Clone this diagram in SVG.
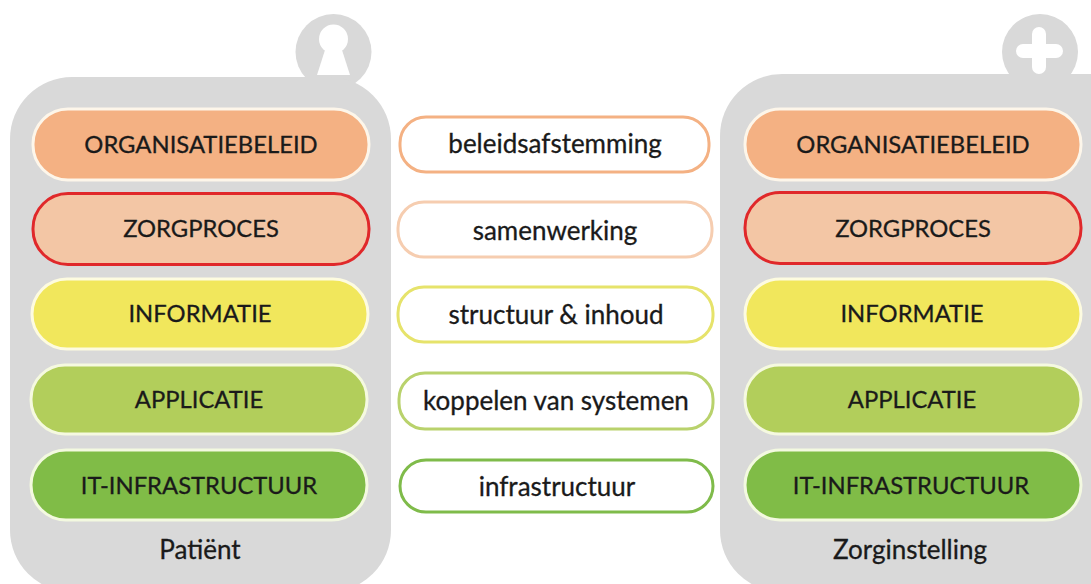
<svg xmlns="http://www.w3.org/2000/svg" width="1091" height="584" viewBox="0 0 1091 584">
<style>
text{font-family:Lato,"Liberation Sans",sans-serif;fill:#1a1a1a;stroke:#1a1a1a;stroke-width:.3;text-anchor:middle;font-size:23.800px}
.w{font-size:26px}
.panel{fill:#d9d9d9}
.hole{fill:#fff}
.p{stroke-width:3}
.m{fill:#fff;stroke-width:3}
</style>
<rect width="1091" height="584" fill="#fff"/>
<g id="patient">
<circle class="panel" cx="333.500" cy="52" r="38"/>
<circle class="hole" cx="333.500" cy="39" r="14.500"/>
<path class="hole" d="M325 50 L317 75 H350 L342 50Z"/>
<rect class="panel" x="10" y="77" width="381" height="515" rx="62"/>
<text class="w" x="200" y="559">Patiënt</text>
</g>
<g id="zorginstelling">
<circle class="panel" cx="1040" cy="52" r="38"/>
<path d="M1039 34V67M1023 51H1056" stroke="#fff" stroke-width="14" stroke-linecap="round" fill="none"/>
<rect class="panel" x="720" y="74" width="440" height="518" rx="62"/>
<text class="w" x="910" y="559">Zorginstelling</text>
</g>
<g id="l1"><rect class="p" x="33" y="109" width="336" height="71" rx="35" fill="#f4b183" stroke="#fdf6ea"/><text x="201" y="153">ORGANISATIEBELEID</text></g>
<g id="l2"><rect class="p" x="33" y="193.500" width="336" height="71" rx="35" fill="#f3c6a5" stroke="#e0282a"/><text x="201" y="237">ZORGPROCES</text></g>
<g id="l3"><rect class="p" x="32" y="279" width="336" height="70" rx="35" fill="#f1e75c" stroke="#fdfbe0"/><text x="200" y="322">INFORMATIE</text></g>
<g id="l4"><rect class="p" x="31" y="365" width="336" height="69" rx="34" fill="#b2ce5b" stroke="#f5f9e0"/><text x="199" y="408">APPLICATIE</text></g>
<g id="l5"><rect class="p" x="31" y="450" width="336" height="70" rx="35" fill="#80bc47" stroke="#f3f9e0"/><text x="199" y="494">IT-INFRASTRUCTUUR</text></g>
<g id="r1"><rect class="p" x="745" y="109" width="336" height="71" rx="35" fill="#f4b183" stroke="#fdf6ea"/><text x="913" y="153">ORGANISATIEBELEID</text></g>
<g id="r2"><rect class="p" x="745" y="192.500" width="336" height="71" rx="35" fill="#f3c6a5" stroke="#e0282a"/><text x="913" y="237">ZORGPROCES</text></g>
<g id="r3"><rect class="p" x="745" y="279" width="336" height="70" rx="35" fill="#f1e75c" stroke="#fdfbe0"/><text x="912" y="322">INFORMATIE</text></g>
<g id="r4"><rect class="p" x="745" y="365" width="336" height="69" rx="34" fill="#b2ce5b" stroke="#f5f9e0"/><text x="912" y="408">APPLICATIE</text></g>
<g id="r5"><rect class="p" x="745" y="450" width="336" height="70" rx="35" fill="#80bc47" stroke="#f3f9e0"/><text x="911" y="494">IT-INFRASTRUCTUUR</text></g>
<g id="m1"><rect class="m" x="400" y="117" width="309" height="55" rx="26" stroke="#f4b183"/><text class="w" x="555" y="153">beleidsafstemming</text></g>
<g id="m2"><rect class="m" x="398" y="202" width="314" height="55" rx="26" stroke="#f6cdb0"/><text class="w" x="555" y="240">samenwerking</text></g>
<g id="m3"><rect class="m" x="398" y="287" width="315" height="55" rx="26" stroke="#e6e36b"/><text class="w" x="556" y="324">structuur &amp; inhoud</text></g>
<g id="m4"><rect class="m" x="399" y="373" width="314" height="56" rx="26" stroke="#b9d26c"/><text class="w" x="556" y="410">koppelen van systemen</text></g>
<g id="m5"><rect class="m" x="400" y="460" width="313" height="52" rx="26" stroke="#7fbb4a"/><text class="w" x="557" y="496">infrastructuur</text></g>
<g id="connectors"/>
</svg>
